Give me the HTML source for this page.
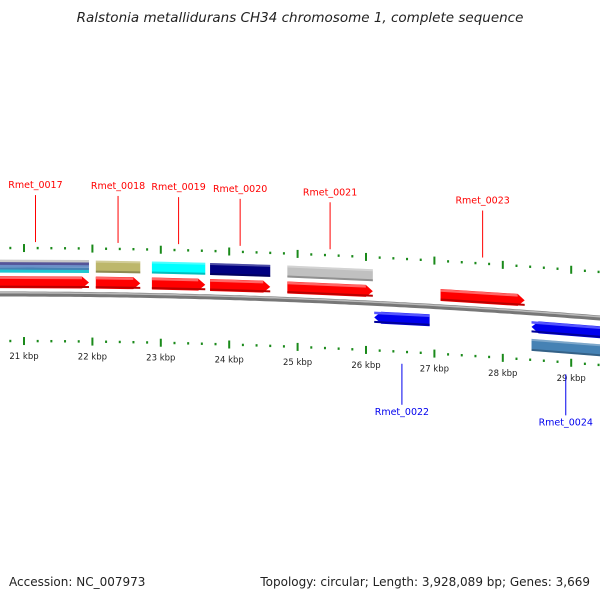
<!DOCTYPE html>
<html><head><meta charset="utf-8"><style>
body{margin:0;background:#fff}
svg{display:block;font-family:"DejaVu Sans","Liberation Sans",sans-serif}
</style></head><body>
<svg id="c" width="600" height="600" viewBox="0 0 600 600">
<text x="300" y="22" text-anchor="middle" font-size="13.5" font-style="italic" fill="#222">Ralstonia metallidurans CH34 chromosome 1, complete sequence</text>
<g id="g"></g>
<text x="9" y="586" font-size="12" fill="#222">Accession: NC_007973</text>
<text x="590" y="586" font-size="12" text-anchor="end" fill="#222">Topology: circular; Length: 3,928,089 bp; Genes: 3,669</text>
</svg>
<script>
const tickKbp=[21,22,23,24,25,26,27,28,29];
const geneNames=['Rmet_0017','Rmet_0018','Rmet_0019','Rmet_0020','Rmet_0021','Rmet_0022','Rmet_0023','Rmet_0024'];
const geneStart=[20.4,22.05,22.87,23.72,24.85,26.12,27.09,28.42];
const geneEnd=[21.95,22.7,23.65,24.6,26.1,26.93,28.32,30.2];
const geneStrand=[1,1,1,1,1,-1,1,-1];
const geneCat=['multi','#bdb76b','#00ffff','#000080','#c0c0c0','none','none','#4682b4'];
const NS='http://www.w3.org/2000/svg';
const G=document.getElementById('g');
function X(k){return 24+(k-21)*68.4;}
function Y(x){return 294+6.67e-5*x*x;}
function mk(t,a){const e=document.createElementNS(NS,t);for(const k in a)e.setAttribute(k,a[k]);G.appendChild(e);return e;}
let d='';for(let x=-5;x<=605;x+=5){d+=(x==-5?'M':'L')+x+' '+Y(x).toFixed(1);}
let bb=mk('path',{d:d,stroke:'#777','stroke-width':5,fill:'none'});

mk('path',{d:d,stroke:'#bbb','stroke-width':1.5,fill:'none',transform:'translate(0,-1.2)'});
for(let k=20.6;k<=29.5;k+=0.2){
 const kk=Math.round(k*10)/10;const x=X(kk);if(x<0||x>600)continue;
 const major=Math.abs(kk-Math.round(kk))<0.01;
 for(const off of [-46,47]){
  const y=Y(x)+off;
  const t=mk('rect',{x:x-1,y:major?y-4:y-1.2,width:2,height:major?8:2.4,fill:'#1a8a1a'});
  
  
 }
}
tickKbp.forEach(k=>{const x=X(k);const t=mk('text',{x:x,y:Y(x)+65,'font-size':8.5,'text-anchor':'middle',fill:'#222'});t.textContent=k+' kbp';
 });
function band(x1,x2,off,h,fill){
 const p=[[x1,Y(x1)+off-h/2],[x2,Y(x2)+off-h/2],[x2,Y(x2)+off+h/2],[x1,Y(x1)+off+h/2]];
 return mk('polygon',{points:p.map(q=>q.join(',')).join(' '),fill:fill});
}
function arrow(x1,x2,off,h,fill,dir){
 const a=7;let p;
 if(dir>0)p=[[x1,Y(x1)+off-h/2],[x2-a,Y(x2-a)+off-h/2],[x2,Y(x2)+off],[x2-a,Y(x2-a)+off+h/2],[x1,Y(x1)+off+h/2]];
 else p=[[x1,Y(x1)+off],[x1+a,Y(x1+a)+off-h/2],[x2,Y(x2)+off-h/2],[x2,Y(x2)+off+h/2],[x1+a,Y(x1+a)+off+h/2]];
 return mk('polygon',{points:p.map(q=>q.join(',')).join(' '),fill:fill});
}
geneNames.forEach((n,i)=>{
 const x1=X(geneStart[i]),x2=X(geneEnd[i]);const s=geneStrand[i];
 const col=s>0?'#ff0000':'#0000ee';const off=s>0?-12:14;
 const g=arrow(x1,x2,off,12,col,s);
 
 band(x1,x2-(s>0?7:0),off-4.5,2.5,s>0?'#ff6666':'#5555ff');
 band(x1,x2,off+4.5,2,s>0?'#b00':'#00009a');
 const c=geneCat[i];const coff=s>0?-28:32;
 if(c==='multi'){
  band(x1,x2,coff-5,3,'#c8c8c8');band(x1,x2,coff-2.5,3,'#555599');band(x1,x2,coff,2.5,'#6b8fc8');band(x1,x2,coff+2.5,2.5,'#4682b4');band(x1,x2,coff+5,3,'#20c8d0');
 }else if(c!=='none'){
  const b=band(x1,x2,coff,12,c);
  
  band(x1,x2,coff+5,2,'rgba(0,0,0,0.25)');band(x1,x2,coff-5,2,'rgba(255,255,255,0.3)');
 }
 const lx=Math.max(x1,0)+(Math.min(x2,600)-Math.max(x1,0))/2-(i==0?9:0);
 const ly=s>0?Y(lx)-46-6:Y(lx)+47+12;
 const ty=s>0?ly-54:ly+51;
 mk('line',{x1:lx,y1:s>0?ty+7:ly,x2:lx,y2:s>0?ly:ty-10,stroke:col,'stroke-width':1});
 const t=mk('text',{x:lx,y:ty,'font-size':9.5,'text-anchor':'middle',fill:col});t.textContent=n;
 
});
</script>
</body></html>
